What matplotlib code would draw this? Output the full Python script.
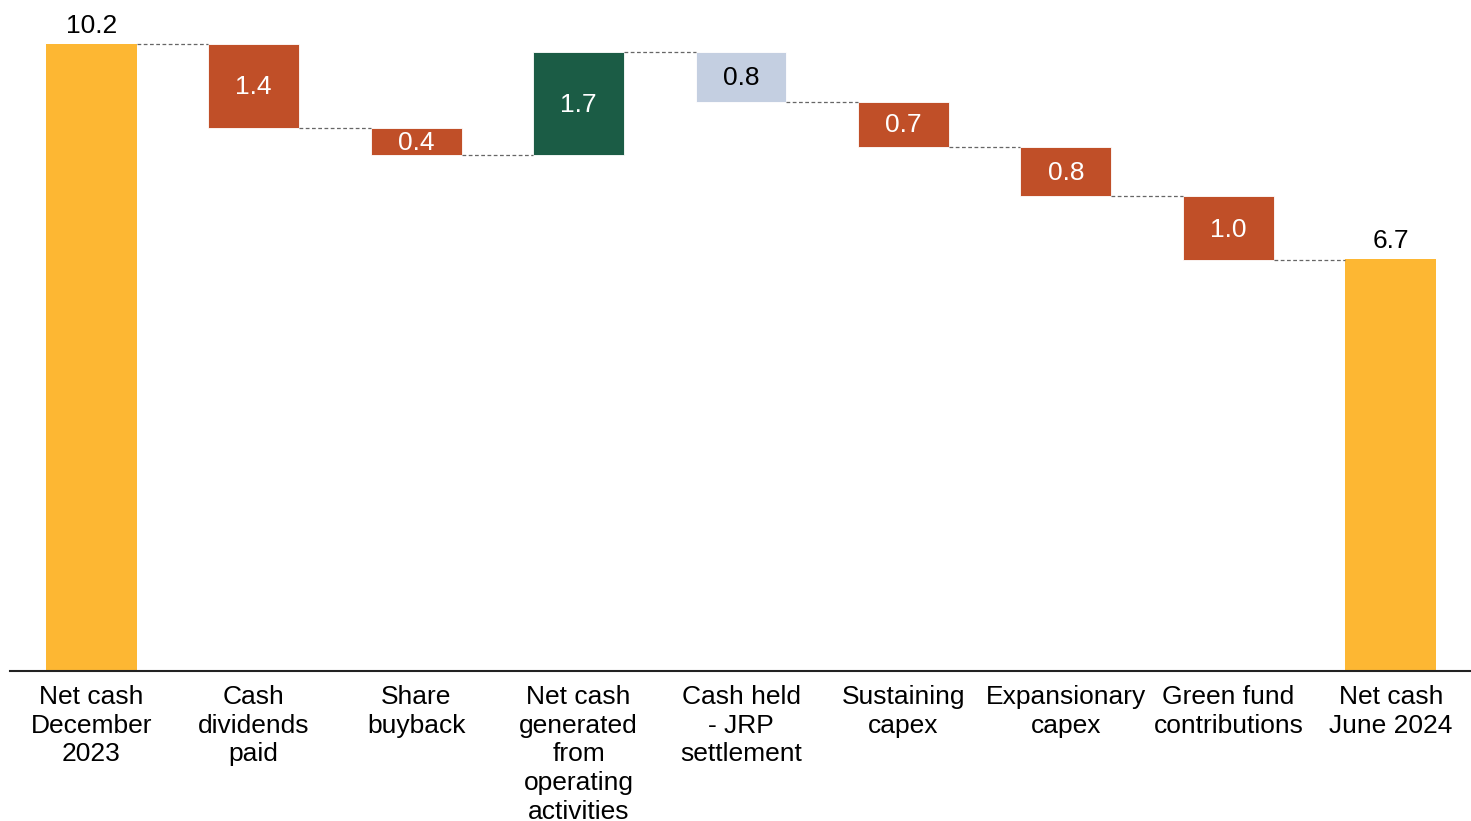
import matplotlib
matplotlib.use("Agg")
import matplotlib.pyplot as plt

plt.rcParams['font.family'] = ['Liberation Sans', 'DejaVu Sans']

categories = ["Net cash\nDecember\n2023", "Cash\ndividends\npaid", "Share\nbuyback",
              "Net cash\ngenerated\nfrom\noperating\nactivities", "Cash held\n- JRP\nsettlement",
              "Sustaining\ncapex", "Expansionary\ncapex", "Green fund\ncontributions",
              "Net cash\nJune 2024"]
start_value = 10.2
changes = [-1.37, -0.44, 1.68, -0.81, -0.73, -0.81, -1.04]
end_value = 6.7

orange = "#FDB733"
red = "#C04F28"
green = "#1B5C45"
light_blue = "#C4CFE1"
change_colors = [red, red, green, light_blue, red, red, red]
text_colors = ["white", "white", "white", "black", "white", "white", "white"]

fig = plt.figure(figsize=(14.71, 8.21), dpi=100)
ax = fig.add_axes([10 / 1471, 150 / 821, 1462 / 1471, 671 / 821])

w = 0.56
fs = 19
ax.bar(0, start_value, width=w, color=orange)
ax.text(0, start_value + 0.1, f"{start_value:.1f}", ha="center", va="bottom", fontsize=fs)

level = start_value
levels = [level]
for i, (c, col, tc) in enumerate(zip(changes, change_colors, text_colors), start=1):
    bottom = level + min(c, 0)
    ax.bar(i, abs(c), bottom=bottom, width=w, color=col, edgecolor="white", linewidth=0.6)
    ax.text(i, bottom + abs(c) / 2 - 0.02, f"{abs(c):.1f}", ha="center", va="center",
            fontsize=fs, color=tc)
    level += c
    levels.append(level)

n = len(categories) - 1
ax.bar(n, end_value, width=w, color=orange)
ax.text(n, end_value + 0.1, f"{end_value:.1f}", ha="center", va="bottom", fontsize=fs)

# dashed connectors between consecutive bars
for i, lv in enumerate(levels):
    ax.plot([i + w / 2, i + 1 - w / 2], [lv, lv], color="#666666", linestyle=(0, (3, 2)),
            linewidth=0.9)

ax.set_xlim(-0.5, n + 0.5)
ax.set_ylim(0, 671 / 61.47)
ax.set_xticks(range(len(categories)))
ax.set_xticklabels(categories, fontsize=fs, linespacing=1.25, va="top")
ax.tick_params(axis="x", length=0, pad=10)
ax.set_yticks([])
for s in ["top", "right", "left"]:
    ax.spines[s].set_visible(False)
ax.spines["bottom"].set_linewidth(1.5)
ax.spines["bottom"].set_color("#222222")

fig.savefig("out.png", dpi=100)
